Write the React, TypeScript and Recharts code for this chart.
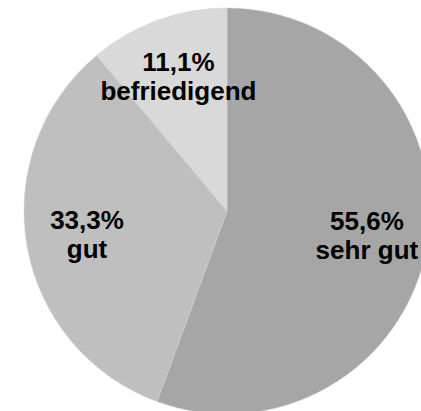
import { PieChart, Pie, Cell } from 'recharts';

const categories = ['sehr gut', 'gut', 'befriedigend'];
const shares = [55.6, 33.3, 11.1];
const colors = ['#a6a6a6', '#bfbfbf', '#d9d9d9'];

const data = categories.map((name, i) => ({ name, value: shares[i] }));

const RADIAN = Math.PI / 180;

function renderLabel(props: any) {
  const { cx, cy, midAngle, outerRadius, index } = props;
  const r = outerRadius * 0.7;
  const x = cx + r * Math.cos(-midAngle * RADIAN);
  const y = cy + r * Math.sin(-midAngle * RADIAN);
  const pct = shares[index].toFixed(1).replace('.', ',') + '%';
  return (
    <text
      x={x}
      y={y}
      textAnchor="middle"
      fill="#000"
      fontFamily="'Liberation Sans', Arial, sans-serif"
      fontWeight="bold"
      fontSize={26}
    >
      <tspan x={x} y={y - 6}>{pct}</tspan>
      <tspan x={x} y={y + 23}>{categories[index]}</tspan>
    </text>
  );
}

export default function App() {
  return (
    <div style={{ position: 'absolute', left: 0, top: 0, width: 421, height: 411, background: '#fff' }}>
      <PieChart width={421} height={411} margin={{ top: 0, right: 0, bottom: 0, left: 0 }}>
        <Pie
          data={data}
          dataKey="value"
          nameKey="name"
          cx={227}
          cy={211}
          outerRadius={203}
          startAngle={90}
          endAngle={-270}
          stroke="#d0d0d0"
          strokeWidth={0.5}
          labelLine={false}
          label={renderLabel}
          isAnimationActive={false}
        >
          {data.map((d, i) => (
            <Cell key={d.name} fill={colors[i]} />
          ))}
        </Pie>
      </PieChart>
    </div>
  );
}
